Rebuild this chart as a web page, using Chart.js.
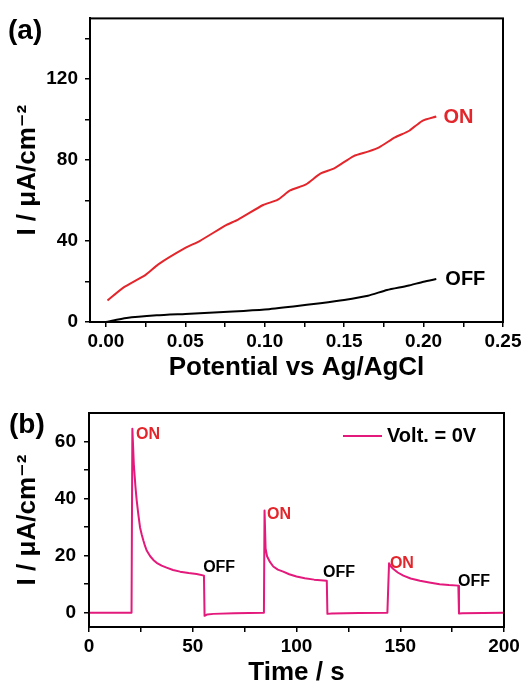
<!DOCTYPE html>
<html lang="en">
<head>
  <meta charset="UTF-8" />
  <title>Photocurrent response</title>
  <script src="https://cdn.jsdelivr.net/npm/chart.js"></script>
  <style>
    html, body {
      margin: 0;
      padding: 0;
      background: #fff;
      overflow: hidden;
    }
    .panel {
      position: absolute;
      left: 0;
      width: 527px;
    }
    #panelA { top: 0; height: 392px; }
    #panelB { top: 392px; height: 300px; }
  </style>
</head>
<body>
  <div class="panel" id="panelA"><canvas id="chartA"></canvas></div>
  <div class="panel" id="panelB"><canvas id="chartB"></canvas></div>

  <script>
    // (a) linear sweep, light on / off
    const potentialOn = [0.001, 0.011, 0.025, 0.033, 0.050, 0.059, 0.076, 0.083, 0.099, 0.108, 0.116,
                         0.126, 0.135, 0.144, 0.156, 0.165, 0.172, 0.182, 0.191, 0.199, 0.208];
    const currentOn = [10.6, 17, 23.3, 28.5, 36.6, 40, 48, 50.5, 57.8, 60.3, 65,
                       68, 73.3, 76, 82, 84.2, 86.3, 91.2, 94.5, 99.3, 101.5];
    const potentialOff = [0.000, 0.013, 0.032, 0.050, 0.080, 0.100, 0.118, 0.135, 0.150, 0.165, 0.177, 0.190, 0.200, 0.208];
    const currentOff = [0, 2, 3.3, 4, 5.2, 6.2, 7.7, 9.3, 10.9, 13, 15.8, 17.9, 19.9, 21.2];

    const potentialTicks = [0, 0.025, 0.05, 0.075, 0.10, 0.125, 0.15, 0.175, 0.20, 0.225, 0.25];
    const potentialLabels = ['0.00', '0.05', '0.10', '0.15', '0.20', '0.25'];
    const currentTicksA = [0, 20, 40, 60, 80, 100, 120, 140];
    const currentLabelsA = ['0', '40', '80', '120'];

    // (b) chopped light at 0 V
    const time = [0, 20.5, 20.9, 21.6, 22.4, 23.0, 23.8, 24.6, 25.4, 26.2, 27.0, 27.8,
                  29.5, 31.0, 32.6, 35.0, 37.4, 40.5, 43.9, 48.0, 51.9, 55.4,
                  55.7, 57, 60, 70, 84.3,
                  84.6, 85.1, 85.8, 87.2, 88.8, 91.0, 93.6, 96.5, 100.0, 104.0, 108.5, 114.6,
                  114.9, 117, 130, 143.8,
                  144.6, 145.5, 146.7, 148.8, 151.5, 155.0, 159.5, 164.0, 169.0, 173.5, 178.0,
                  178.3, 180, 190, 200];
    const currentB = [0, 0, 64.5, 52, 44, 39.3, 34.3, 29.9, 27.4, 25.3, 23.4, 21.8,
                      19.8, 18.5, 17.5, 16.5, 15.8, 15.0, 14.4, 13.9, 13.6, 13.0,
                      -1.1, -0.6, -0.4, -0.2, 0,
                      35.8, 22.5, 19.8, 17.8, 16.2, 15.1, 14.4, 13.5, 12.7, 12.1, 11.6, 11.2,
                      -0.4, -0.3, -0.1, 0,
                      17.3, 16.2, 15.3, 14.1, 13.0, 12.0, 11.2, 10.6, 10.0, 9.7, 9.5,
                      -0.3, -0.2, -0.1, 0];

    const timeTicks = [0, 25, 50, 75, 100, 125, 150, 175, 200];
    const timeLabels = ['0', '50', '100', '150', '200'];
    const currentTicksB = [0, 10, 20, 30, 40, 50, 60];
    const currentLabelsB = ['0', '20', '40', '60'];

    // text notes, placed in data units
    const notesA = [
      { text: 'ON', x: 0.2125, y: 101, color: '#e3262b' },
      { text: 'OFF', x: 0.2137, y: 21, color: '#000' }
    ];
    const notesB = [
      { text: 'ON', x: 22.7, y: 62.5, color: '#e3262b' },
      { text: 'OFF', x: 55.0, y: 15.8, color: '#000' },
      { text: 'ON', x: 85.8, y: 34.4, color: '#e3262b' },
      { text: 'OFF', x: 112.8, y: 14.0, color: '#000' },
      { text: 'ON', x: 145.0, y: 17.2, color: '#e3262b' },
      { text: 'OFF', x: 177.8, y: 10.9, color: '#000' }
    ];

    const FONT = "'Liberation Sans', Arial, 'DejaVu Sans', sans-serif";
    Chart.defaults.font.family = FONT;
    Chart.defaults.color = '#000';

    const framePlugin = {
      id: 'frame',
      afterDraw(chart) {
        const { ctx, chartArea: a } = chart;
        ctx.save();
        ctx.strokeStyle = '#000';
        ctx.lineWidth = 2;
        ctx.strokeRect(a.left, a.top, a.right - a.left, a.bottom - a.top);
        ctx.restore();
      }
    };

    function notesPlugin(notes, size, panel) {
      return {
        id: 'notes',
        afterDatasetsDraw(chart) {
          const { ctx, scales } = chart;
          ctx.save();
          ctx.textBaseline = 'middle';
          ctx.textAlign = 'left';
          ctx.font = 'bold ' + size + 'px ' + FONT;
          notes.forEach(n => {
            ctx.fillStyle = n.color;
            ctx.fillText(n.text, scales.x.getPixelForValue(n.x), scales.y.getPixelForValue(n.y));
          });
          ctx.fillStyle = '#000';
          ctx.font = 'bold 28px ' + FONT;
          ctx.fillText(panel.text, panel.x, panel.y);
          ctx.restore();
        }
      };
    }

    function pickTicks(values) {
      return scale => { scale.ticks = values.map(v => ({ value: v })); };
    }

    function labelIf(labels, digits) {
      return value => {
        const s = digits ? Number(value).toFixed(digits) : String(Math.round(value));
        return labels.includes(s) ? s : '';
      };
    }

    function axis(min, max, tickValues, labels, digits, padding, fit, title, titlePad) {
      return {
        type: 'linear',
        min: min,
        max: max,
        afterBuildTicks: pickTicks(tickValues),
        afterFit: fit,
        border: { display: true, color: '#000', width: 2 },
        grid: { drawOnChartArea: false, drawTicks: true, tickLength: 5, color: '#000', lineWidth: 1.5 },
        ticks: {
          autoSkip: false,
          maxRotation: 0,
          padding: padding,
          color: '#000',
          font: { size: 19, weight: 'bold' },
          callback: labelIf(labels, digits)
        },
        title: {
          display: true,
          text: title,
          color: '#000',
          font: { size: 26, weight: 'bold' },
          padding: titlePad
        }
      };
    }

    new Chart(document.getElementById('chartA'), {
      type: 'line',
      data: {
        datasets: [
          {
            label: 'ON',
            data: potentialOn.map((p, i) => ({ x: p, y: currentOn[i] })),
            borderColor: '#e3262b',
            borderWidth: 2,
            borderJoinStyle: 'round',
            pointRadius: 0,
            tension: 0.2
          },
          {
            label: 'OFF',
            data: potentialOff.map((p, i) => ({ x: p, y: currentOff[i] })),
            borderColor: '#000',
            borderWidth: 2,
            borderJoinStyle: 'round',
            pointRadius: 0,
            tension: 0.2
          }
        ]
      },
      options: {
        responsive: true,
        maintainAspectRatio: false,
        animation: false,
        layout: { padding: { top: 14, right: 24, left: 0, bottom: 0 } },
        plugins: { legend: { display: false }, tooltip: { enabled: false } },
        scales: {
          x: axis(-0.01, 0.25, potentialTicks, potentialLabels, 2, 3,
                  s => { s.height = 70; }, 'Potential vs Ag/AgCl', { top: 0, bottom: 9 }),
          y: axis(0, 150, currentTicksA, currentLabelsA, 0, 7,
                  s => { s.width = 90; }, 'I / μA/cm⁻²', { top: 12, bottom: 0 })
        }
      },
      plugins: [framePlugin, notesPlugin(notesA, 20, { text: '(a)', x: 8, y: 31 })]
    });

    const legendB = {
      id: 'legendB',
      afterDraw(chart) {
        const { ctx } = chart;
        const ds = chart.data.datasets[0];
        ctx.save();
        ctx.strokeStyle = ds.borderColor;
        ctx.lineWidth = 2;
        ctx.beginPath();
        ctx.moveTo(343, 44);
        ctx.lineTo(382, 44);
        ctx.stroke();
        ctx.fillStyle = '#000';
        ctx.font = 'bold 20px ' + FONT;
        ctx.textBaseline = 'middle';
        ctx.fillText(ds.label, 387, 44);
        ctx.restore();
      }
    };

    new Chart(document.getElementById('chartB'), {
      type: 'line',
      data: {
        datasets: [{
          label: 'Volt. = 0V',
          data: time.map((t, i) => ({ x: t, y: currentB[i] })),
          borderColor: '#e3197b',
          borderWidth: 2,
          borderJoinStyle: 'round',
          pointRadius: 0,
          tension: 0
        }]
      },
      options: {
        responsive: true,
        maintainAspectRatio: false,
        animation: false,
        layout: { padding: { top: 21, right: 23, left: 0, bottom: 0 } },
        plugins: { legend: { display: false }, tooltip: { enabled: false } },
        scales: {
          x: axis(0, 200, timeTicks, timeLabels, 0, 3,
                  s => { s.height = 65; }, 'Time / s', { top: 0, bottom: 4 }),
          y: axis(-5, 70, currentTicksB, currentLabelsB, 0, 8,
                  s => { s.width = 89; }, 'I / μA/cm⁻²', { top: 12, bottom: 0 })
        }
      },
      plugins: [framePlugin, legendB, notesPlugin(notesB, 16, { text: '(b)', x: 9, y: 33 })]
    });
  </script>
</body>
</html>
